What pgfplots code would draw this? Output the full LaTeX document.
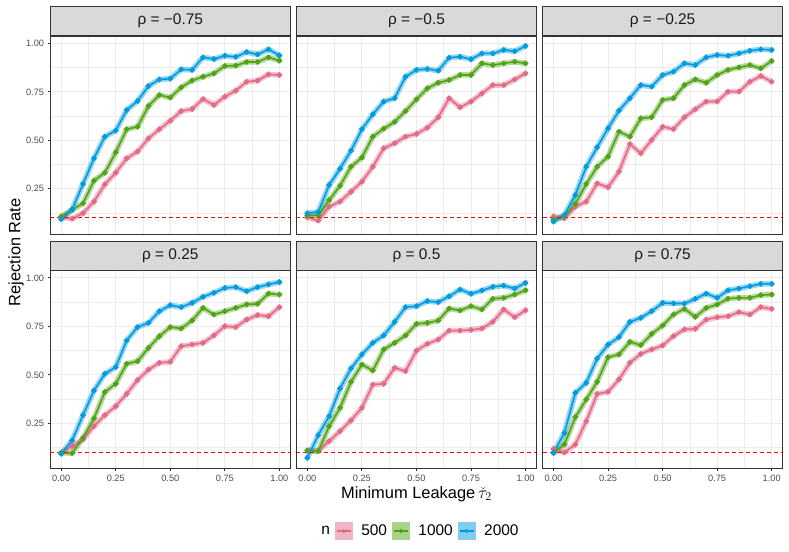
\documentclass[border=0pt]{standalone}
\usepackage{fontspec}
\setmainfont{Liberation Sans}
\usepackage{pgfplots}
\pgfplotsset{compat=1.18}
\usepackage{pgfplotstable}
\definecolor{pinkc}{HTML}{E16A86}
\definecolor{greenc}{HTML}{50A315}
\definecolor{bluec}{HTML}{009ADE}
\definecolor{gridc}{HTML}{EBEBEB}
\definecolor{gtwenty}{HTML}{333333}
\definecolor{gthirty}{HTML}{4D4D4D}
\definecolor{stripc}{HTML}{D9D9D9}
\definecolor{gten}{HTML}{1A1A1A}
\definecolor{hline}{rgb}{1,0,0}

% columns: x, a = n 500, b = n 1000, c = n 2000
\pgfplotstableread{
x a b c
0.00 0.103 0.107 0.093
0.05 0.096 0.141 0.144
0.10 0.124 0.175 0.275
0.15 0.184 0.292 0.407
0.20 0.273 0.333 0.519
0.25 0.333 0.438 0.550
0.30 0.407 0.557 0.656
0.35 0.442 0.570 0.703
0.40 0.510 0.677 0.780
0.45 0.557 0.734 0.814
0.50 0.601 0.720 0.818
0.55 0.651 0.773 0.866
0.60 0.661 0.808 0.863
0.65 0.713 0.828 0.928
0.70 0.682 0.845 0.919
0.75 0.725 0.883 0.936
0.80 0.756 0.885 0.930
0.85 0.802 0.904 0.955
0.90 0.808 0.904 0.943
0.95 0.840 0.928 0.969
1.00 0.837 0.911 0.938
}\tA
\pgfplotstableread{
x a b c
0.00 0.103 0.113 0.124
0.05 0.086 0.113 0.131
0.10 0.158 0.192 0.270
0.15 0.184 0.266 0.354
0.20 0.235 0.364 0.447
0.25 0.287 0.411 0.557
0.30 0.364 0.519 0.634
0.35 0.459 0.560 0.700
0.40 0.485 0.595 0.717
0.45 0.519 0.651 0.828
0.50 0.533 0.711 0.863
0.55 0.565 0.768 0.868
0.60 0.619 0.797 0.859
0.65 0.717 0.811 0.926
0.70 0.670 0.837 0.931
0.75 0.700 0.837 0.918
0.80 0.742 0.897 0.948
0.85 0.785 0.888 0.948
0.90 0.785 0.897 0.966
0.95 0.814 0.905 0.959
1.00 0.845 0.897 0.986
}\tB
\pgfplotstableread{
x a b c
0.00 0.107 0.093 0.081
0.05 0.098 0.107 0.115
0.10 0.158 0.172 0.218
0.15 0.184 0.275 0.364
0.20 0.278 0.364 0.464
0.25 0.258 0.416 0.562
0.30 0.338 0.545 0.653
0.35 0.481 0.519 0.717
0.40 0.433 0.613 0.785
0.45 0.502 0.619 0.777
0.50 0.570 0.708 0.837
0.55 0.558 0.717 0.854
0.60 0.619 0.785 0.897
0.65 0.660 0.814 0.888
0.70 0.700 0.797 0.928
0.75 0.700 0.837 0.940
0.80 0.751 0.863 0.936
0.85 0.751 0.876 0.948
0.90 0.802 0.888 0.962
0.95 0.832 0.871 0.969
1.00 0.802 0.909 0.966
}\tC
\pgfplotstableread{
x a b c
0.00 0.098 0.098 0.093
0.05 0.132 0.096 0.162
0.10 0.167 0.175 0.292
0.15 0.235 0.275 0.419
0.20 0.292 0.411 0.505
0.25 0.338 0.454 0.540
0.30 0.402 0.557 0.677
0.35 0.473 0.570 0.746
0.40 0.527 0.639 0.768
0.45 0.562 0.699 0.828
0.50 0.567 0.746 0.859
0.55 0.648 0.739 0.849
0.60 0.656 0.780 0.871
0.65 0.665 0.845 0.902
0.70 0.703 0.811 0.923
0.75 0.751 0.828 0.948
0.80 0.746 0.845 0.952
0.85 0.785 0.863 0.931
0.90 0.808 0.866 0.952
0.95 0.802 0.919 0.966
1.00 0.849 0.914 0.978
}\tD
\pgfplotstableread{
x a b c
0.00 0.110 0.110 0.072
0.05 0.107 0.107 0.189
0.10 0.158 0.235 0.287
0.15 0.210 0.330 0.430
0.20 0.265 0.464 0.533
0.25 0.330 0.553 0.605
0.30 0.450 0.522 0.665
0.35 0.454 0.631 0.703
0.40 0.536 0.665 0.773
0.45 0.519 0.703 0.849
0.50 0.625 0.763 0.854
0.55 0.660 0.768 0.880
0.60 0.682 0.780 0.875
0.65 0.728 0.842 0.905
0.70 0.728 0.832 0.940
0.75 0.732 0.854 0.918
0.80 0.739 0.837 0.935
0.85 0.773 0.892 0.954
0.90 0.837 0.897 0.960
0.95 0.797 0.914 0.945
1.00 0.833 0.936 0.974
}\tE
\pgfplotstableread{
x a b c
0.00 0.118 0.098 0.098
0.05 0.100 0.141 0.201
0.10 0.141 0.282 0.407
0.15 0.261 0.373 0.459
0.20 0.402 0.464 0.584
0.25 0.412 0.591 0.656
0.30 0.476 0.605 0.694
0.35 0.562 0.670 0.773
0.40 0.608 0.653 0.794
0.45 0.631 0.711 0.828
0.50 0.651 0.754 0.871
0.55 0.700 0.811 0.868
0.60 0.734 0.840 0.868
0.65 0.737 0.799 0.892
0.70 0.785 0.845 0.919
0.75 0.797 0.863 0.897
0.80 0.802 0.893 0.936
0.85 0.823 0.897 0.945
0.90 0.811 0.897 0.957
0.95 0.849 0.911 0.969
1.00 0.840 0.914 0.969
}\tF

\pgfplotsset{
  panel/.style={
    scale only axis, width=240bp, height=198bp, anchor=south west,
    xmin=-0.05, xmax=1.05, ymin=0.017, ymax=1.038,
    xtick={0,0.25,0.5,0.75,1}, ytick={0.25,0.5,0.75,1},
    xticklabels={0.00,0.25,0.50,0.75,1.00},
    yticklabels={0.25,0.50,0.75,1.00},
    minor xtick={0.125,0.375,0.625,0.875},
    minor ytick={0.125,0.375,0.625,0.875},
    grid=both,
    major grid style={draw=gridc, line width=1bp},
    minor grid style={draw=gridc, line width=0.5bp},
    axis line style={draw=gtwenty, line width=0.9bp},
    tick align=outside, major tick length=2.75bp, minor tick length=0pt,
    xtick pos=bottom, ytick pos=left,
    tick style={gtwenty, line width=0.9bp},
    ticklabel style={font=\fontsize{9.25}{10}\selectfont, text=gthirty},
    every axis title/.style={at={(0.5,1)}, anchor=south, fill=stripc, draw=gtwenty,
      line width=0.9bp, minimum width=240bp, minimum height=29bp, inner sep=0pt,
      font=\fontsize{15.5}{18}\selectfont, text=gten},
  },
  band/.style={line width=5.5bp, opacity=0.42, line join=round, line cap=round, no marks, forget plot},
  ln/.style={line width=1.6bp, mark=*, mark size=1.9bp, forget plot, mark options={solid}},
  inner top/.style={xticklabels={}, xmajorticks=false},
  inner right/.style={yticklabels={}, ymajorticks=false},
}

\newcommand{\panelplots}[1]{%
  \addplot[band, pinkc] table[x=x,y=a]{#1};
  \addplot[band, greenc] table[x=x,y=b]{#1};
  \addplot[band, bluec] table[x=x,y=c]{#1};
  \addplot[ln, pinkc] table[x=x,y=a]{#1};
  \addplot[ln, greenc] table[x=x,y=b]{#1};
  \addplot[ln, bluec] table[x=x,y=c]{#1};
  \addplot[forget plot, hline, dash pattern=on 4bp off 3bp, line width=1.1bp] coordinates {(-0.05,0.1) (1.05,0.1)};
}

\begin{document}
\begin{tikzpicture}
\path[use as bounding box] (0,0) rectangle (789bp,552bp);

\begin{axis}[panel, at={(50.3bp,318bp)}, title={ρ = −0.75}, inner top]
\panelplots{\tA}
\end{axis}
\begin{axis}[panel, at={(296.45bp,318bp)}, title={ρ = −0.5}, inner top, inner right]
\panelplots{\tB}
\end{axis}
\begin{axis}[panel, at={(542.6bp,318bp)}, title={ρ = −0.25}, inner top, inner right]
\panelplots{\tC}
\end{axis}
\begin{axis}[panel, at={(50.3bp,83.5bp)}, title={ρ = 0.25}]
\panelplots{\tD}
\end{axis}
\begin{axis}[panel, at={(296.45bp,83.5bp)}, title={ρ = 0.5}, inner right,
  legend style={at={(0.5,-0.316)}, anchor=center, draw=none, fill=none, legend columns=-1,
    font=\fontsize{15.5}{18}\selectfont,
    /tikz/every even column/.append style={column sep=3bp},
    /tikz/every odd column/.append style={column sep=7bp}}]
\panelplots{\tE}
\addlegendimage{empty legend}\addlegendentry{n}
\addlegendimage{legend image code/.code={
  \fill[pinkc!50!white] (0bp,-8.5bp) rectangle (17bp,8.5bp);
  \draw[pinkc, line width=1.6bp] (1.5bp,0bp) -- (15.5bp,0bp);
  \fill[pinkc] (8.5bp,0bp) circle (1.9bp);}}
\addlegendentry{500}
\addlegendimage{legend image code/.code={
  \fill[greenc!50!white] (0bp,-8.5bp) rectangle (17bp,8.5bp);
  \draw[greenc, line width=1.6bp] (1.5bp,0bp) -- (15.5bp,0bp);
  \fill[greenc] (8.5bp,0bp) circle (1.9bp);}}
\addlegendentry{1000}
\addlegendimage{legend image code/.code={
  \fill[bluec!50!white] (0bp,-8.5bp) rectangle (17bp,8.5bp);
  \draw[bluec, line width=1.6bp] (1.5bp,0bp) -- (15.5bp,0bp);
  \fill[bluec] (8.5bp,0bp) circle (1.9bp);}}
\addlegendentry{2000}
\end{axis}
\begin{axis}[panel, at={(542.6bp,83.5bp)}, title={ρ = 0.75}, inner right]
\panelplots{\tF}
\end{axis}

\node[font=\fontsize{16.5}{19}\selectfont, text=black] at (416.45bp,58bp) {Minimum Leakage\,$\check{\tau}_2$};
\node[rotate=90, font=\fontsize{16.5}{19}\selectfont, text=black] at (16bp,299.75bp) {Rejection Rate};
\end{tikzpicture}
\end{document}
